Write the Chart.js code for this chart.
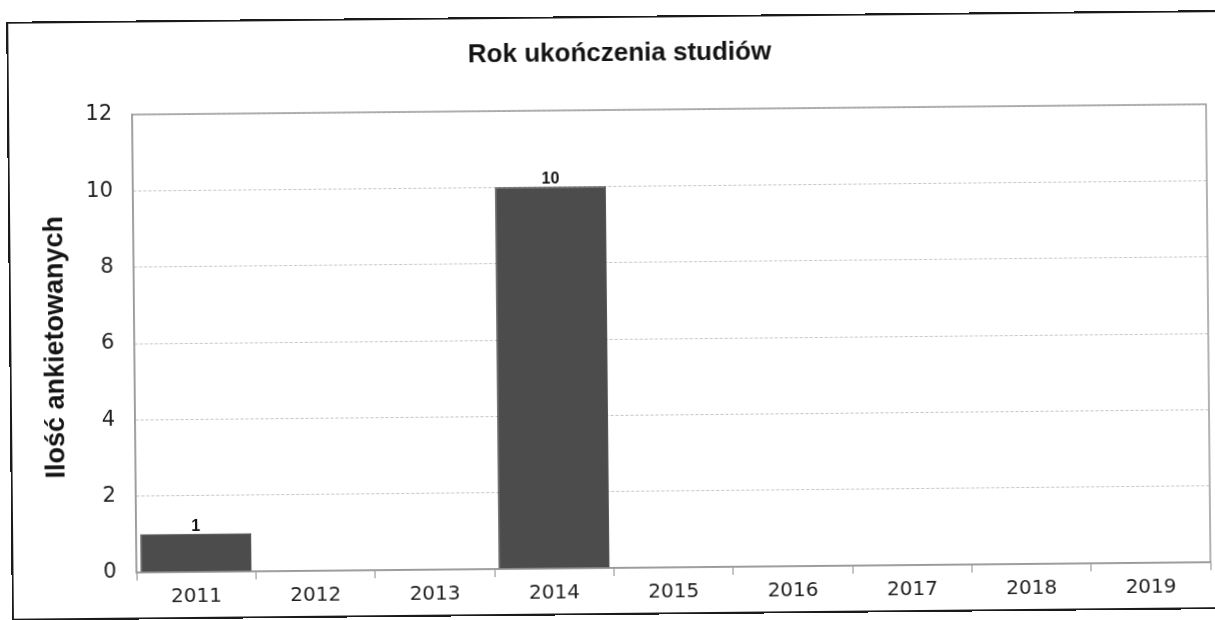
<!DOCTYPE html>
<html>
<head>
<meta charset="utf-8">
<script src="https://cdn.jsdelivr.net/npm/chart.js@4/dist/chart.umd.min.js"></script>
<style>
  html, body { margin: 0; padding: 0; background: #fff; overflow: hidden; }
  #wrap { position: relative; width: 1215px; height: 620px; background: #fff; transform: rotate(-0.55deg); transform-origin: 607px 310px; }
  #frame { position: absolute; left: 9px; top: 16px; width: 1230px; height: 599px; border: 2px solid #1a1a1a; box-sizing: border-box; pointer-events: none; }
  canvas { position: absolute; left: 0; top: 0; }
</style>
</head>
<body>
<div id="wrap">
  <canvas id="c" width="1215" height="620"></canvas>
  <div id="frame"></div>
</div>
<script>
const categories = ['2011', '2012', '2013', '2014', '2015', '2016', '2017', '2018', '2019'];
const respondents = [1, 0, 0, 10, 0, 0, 0, 0, 0];
const yTicks = [0, 2, 4, 6, 8, 10, 12];
const chartTitle = 'Rok ukończenia studiów';
const yTitle = 'Ilość ankietowanych';

const TITLE_FONT = 'bold 26px "Liberation Sans", Arial, sans-serif';
const YTITLE_FONT = 'bold 27px "Liberation Sans", Arial, sans-serif';
const TICK_FAMILY = '"DejaVu Sans", Verdana, sans-serif';

const plotFrame = {
  id: 'plotFrame',
  beforeDatasetsDraw(chart) {
    const { ctx, chartArea: a } = chart;
    ctx.save();
    ctx.strokeStyle = '#9a9a9a';
    ctx.lineWidth = 1.5;
    ctx.strokeRect(a.left, a.top, a.right - a.left, a.bottom - a.top);
    ctx.restore();
  }
};

const texts = {
  id: 'texts',
  afterDraw(chart) {
    const { ctx, chartArea: a } = chart;
    ctx.save();
    ctx.fillStyle = '#141414';
    ctx.font = TITLE_FONT;
    ctx.textAlign = 'center';
    ctx.textBaseline = 'alphabetic';
    ctx.fillText(chartTitle, 622, 61);
    ctx.translate(63, (a.top + a.bottom) / 2 + 3);
    ctx.rotate(-Math.PI / 2);
    ctx.font = YTITLE_FONT;
    ctx.fillText(yTitle, 0, 0);
    ctx.restore();
  }
};

const valueLabels = {
  id: 'valueLabels',
  afterDatasetsDraw(chart) {
    const { ctx } = chart;
    const meta = chart.getDatasetMeta(0);
    ctx.save();
    ctx.fillStyle = '#111';
    ctx.font = 'bold 16px "Liberation Sans", Arial, sans-serif';
    ctx.textAlign = 'center';
    ctx.textBaseline = 'alphabetic';
    meta.data.forEach((bar, i) => {
      const v = respondents[i];
      if (v > 0) ctx.fillText(String(v), bar.x, bar.y - 3);
    });
    ctx.restore();
  }
};

new Chart(document.getElementById('c'), {
  type: 'bar',
  data: {
    labels: categories,
    datasets: [{
      data: respondents,
      backgroundColor: '#4c4c4c',
      borderColor: '#3c3c3c',
      borderWidth: 1,
      barPercentage: 0.93,
      categoryPercentage: 1.0
    }]
  },
  options: {
    responsive: false,
    animation: false,
    layout: { padding: { left: 0, right: 7, top: 110, bottom: 0 } },
    plugins: {
      legend: { display: false },
      tooltip: { enabled: false },
      title: { display: false }
    },
    scales: {
      x: {
        offset: true,
        afterFit(axis) { axis.height = 52; },
        grid: { offset: true, drawOnChartArea: false, drawTicks: true, tickLength: 8, color: '#8a8a8a' },
        border: { display: true, color: '#999', width: 1.5 },
        ticks: { color: '#1e1e1e', font: { family: TICK_FAMILY, size: 20 }, padding: 5 }
      },
      y: {
        min: 0,
        max: 12,
        afterFit(axis) { axis.width = 134; },
        afterBuildTicks(axis) { axis.ticks = yTicks.map(v => ({ value: v })); },
        grid: { color: '#c4c4c4', drawTicks: false, lineWidth: 1 },
        border: { display: true, color: '#999', width: 1.5, dash: [3, 2] },
        ticks: { color: '#1e1e1e', font: { family: TICK_FAMILY, size: 21 }, padding: 20 }
      }
    }
  },
  plugins: [plotFrame, valueLabels, texts]
});
</script>
</body>
</html>
